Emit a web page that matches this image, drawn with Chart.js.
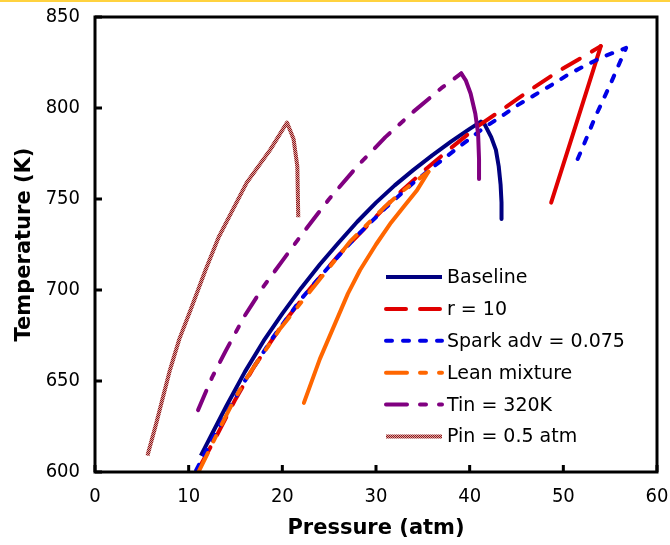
<!DOCTYPE html>
<html>
<head>
<meta charset="utf-8">
<script src="https://cdn.jsdelivr.net/npm/chart.js@4.4.0/dist/chart.umd.min.js"></script>
<style>
  html, body { margin: 0; padding: 0; background: #fff; }
</style>
</head>
<body>
<canvas id="chart" width="670" height="545"></canvas>
<script>
// T vs P for each engine case
const seriesNames = ['Baseline', 'r = 10', 'Spark adv = 0.075', 'Lean mixture', 'Tin = 320K', 'Pin = 0.5 atm'];

const baseP = [11.3, 12.5, 14.0, 16.0, 18.0, 20.0, 22.0, 24.0, 26.0, 28.0, 30.0, 32.0, 34.0, 36.0, 38.0, 40.0, 41.2, 41.6, 42.3, 42.8, 43.1, 43.3, 43.4, 43.4];
const baseT = [609, 621, 636, 655, 672, 687, 701, 714, 726, 737.5, 748, 757.5, 766, 774, 781.5, 788.5, 792.5, 791, 784, 777, 768, 758, 748, 739];

const r10P = [11.3, 13.0, 15.0, 17.0, 20.0, 23.0, 26.0, 29.0, 32.0, 35.0, 38.0, 41.0, 43.3, 45.1, 46.5, 49.4, 52.4, 54.0, 51.3, 48.7];
const r10T = [604, 620, 640, 658, 681, 701, 719, 735, 751, 765, 778, 790.5, 798.5, 805, 810, 820, 829, 834, 790, 748];

const sparkP = [10.8, 12.0, 14.0, 16.0, 19.0, 22.0, 25.0, 28.0, 31.0, 34.0, 36.2, 38.7, 41.5, 43.7, 45.1, 46.9, 48.7, 50.4, 52.2, 54.4, 56.7, 55.1, 53.4, 52.2, 51.2];
const sparkT = [601, 613, 632, 650, 674, 695, 713, 730, 745, 759, 768, 778, 789, 796.5, 801.5, 807, 812.5, 818, 823, 828.5, 833, 814, 795, 780, 768];

const leanP = [11.05, 12.2, 13.5, 15.0, 16.6, 19.8, 23.7, 27.3, 30.8, 33.0, 35.6, 34.4, 33.0, 31.6, 30.0, 28.3, 27.0, 25.5, 24.0, 22.3];
const leanT = [600, 612, 626, 641, 655, 679, 704, 727, 745, 755, 765, 755, 746, 737, 725, 711, 698, 680, 662, 638];

const tinP = [11.0, 12.5, 14.0, 16.0, 18.0, 20.0, 22.0, 25.0, 28.0, 31.0, 34.0, 37.0, 39.1, 39.6, 40.1, 40.6, 40.9, 41.0, 41.0];
const tinT = [634, 652, 667, 686, 702, 716, 730, 750, 768, 784, 798, 811, 819, 815, 808, 797, 786, 772, 761];

const pinP = [5.6, 6.5, 7.0, 8.0, 9.0, 10.2, 11.8, 13.2, 14.4, 16.2, 18.7, 20.5, 21.2, 21.6, 21.7];
const pinT = [609, 626, 636, 656, 673, 689, 711, 729, 741, 759, 777, 792, 783, 768, 740];

const xTicks = [0, 10, 20, 30, 40, 50, 60];
const yTicks = [600, 650, 700, 750, 800, 850];

const FONT = "'DejaVu Sans Condensed', 'DejaVu Sans', sans-serif";

const canvas = document.getElementById('chart');
const ctx = canvas.getContext('2d');

// dotted brown texture for the low inlet pressure line
const hatch = (() => {
    const c = document.createElement('canvas');
    c.width = 2; c.height = 2;
    const g = c.getContext('2d');
    g.fillStyle = '#dfa3a3'; g.fillRect(0, 0, 2, 2);
    g.fillStyle = '#8b1a1a'; g.fillRect(0, 0, 1, 1); g.fillRect(1, 1, 1, 1);
    return ctx.createPattern(c, 'repeat');
})();

const pts = (p, t) => p.map((v, i) => ({x: v, y: t[i]}));
const peakOf = t => t.indexOf(Math.max(...t));

// dash until the peak, then solid (if solidAfter)
const mkSet = (label, p, t, color, dash, solidAfter, order) => {
    const pk = peakOf(t);
    return {
        label: label,
        data: pts(p, t),
        borderColor: color,
        borderWidth: 4,
        borderDash: dash,
        borderCapStyle: dash.length ? 'round' : 'butt',
        borderJoinStyle: 'round',
        pointRadius: 0,
        showLine: true,
        tension: 0,
        order: order,
        segment: {
            borderDash: c => (solidAfter && c.p0DataIndex >= pk) ? [] : dash
        }
    };
};

const topBar = {
    id: 'topBar',
    beforeDraw(chart) {
        const c = chart.ctx;
        c.save();
        c.fillStyle = '#fff';
        c.fillRect(0, 0, chart.width, chart.height);
        c.fillStyle = '#ffd23f';
        c.fillRect(0, 0, chart.width, 2);
        c.restore();
    }
};

const frame = {
    id: 'frame',
    afterDatasetsDraw(chart) {
        const c = chart.ctx;
        const a = chart.chartArea;
        const sx = chart.scales.x, sy = chart.scales.y;
        c.save();
        c.strokeStyle = '#000';
        c.lineWidth = 3;
        c.beginPath();
        xTicks.forEach(v => {
            const px = sx.getPixelForValue(v);
            c.moveTo(px, a.bottom);
            c.lineTo(px, a.bottom - 7);
        });
        yTicks.forEach(v => {
            const py = sy.getPixelForValue(v);
            c.moveTo(a.left, py);
            c.lineTo(a.left + 7, py);
        });
        c.stroke();
        c.strokeRect(a.left, a.top, a.right - a.left, a.bottom - a.top);
        c.restore();
    }
};

const insideLegend = {
    id: 'insideLegend',
    afterDraw(chart) {
        const c = chart.ctx;
        const a = chart.chartArea;
        const x0 = a.left + 291, len = 56;
        c.save();
        c.font = "19px 'DejaVu Sans', sans-serif";
        c.textBaseline = 'middle';
        c.fillStyle = '#000';
        chart.data.datasets.forEach((ds, i) => {
            const y = a.top + 260 + i * 31.9;
            c.strokeStyle = ds.borderColor;
            c.lineWidth = ds.borderWidth;
            c.lineCap = ds.borderCapStyle;
            c.setLineDash(ds.borderDash);
            c.beginPath();
            c.moveTo(x0, y);
            c.lineTo(x0 + len, y);
            c.stroke();
            c.setLineDash([]);
            c.fillText(ds.label, x0 + 61, y + 1);
        });
        c.restore();
    }
};

new Chart(ctx, {
    type: 'scatter',
    data: {
        datasets: [
            mkSet(seriesNames[0], baseP, baseT, '#000080', [], false, 6),
            mkSet(seriesNames[1], r10P, r10T, '#e00000', [20, 14], true, 5),
            mkSet(seriesNames[2], sparkP, sparkT, '#0000e6', [6, 11], false, 4),
            mkSet(seriesNames[3], leanP, leanT, '#ff6600', [21, 13, 6, 13], true, 3),
            mkSet(seriesNames[4], tinP, tinT, '#800080', [21, 13, 6, 13], true, 2),
            mkSet(seriesNames[5], pinP, pinT, hatch, [], false, 1)
        ]
    },
    options: {
        responsive: false,
        animation: false,
        devicePixelRatio: 1,
        layout: { padding: { top: 17, right: 13, left: 0, bottom: 0 } },
        plugins: {
            legend: { display: false },
            tooltip: { enabled: false }
        },
        scales: {
            x: {
                type: 'linear',
                min: 0, max: 60,
                afterBuildTicks: s => { s.ticks = xTicks.map(v => ({value: v})); },
                afterFit: s => { s.height = 73; },
                // grid hidden; tickLength only pushes the labels down
                grid: { display: false, drawTicks: true, tickLength: 12 },
                border: { display: false },
                ticks: { font: { family: FONT, size: 20 }, color: '#000', padding: 1, maxRotation: 0 },
                title: {
                    display: true, text: 'Pressure (atm)', color: '#000',
                    font: { family: "'DejaVu Sans', sans-serif", size: 21, weight: 'bold' },
                    padding: { top: 0, bottom: 4 }
                }
            },
            y: {
                type: 'linear',
                min: 600, max: 850,
                afterBuildTicks: s => { s.ticks = yTicks.map(v => ({value: v})); },
                afterFit: s => { s.width = 95; },
                grid: { display: false, drawTicks: true, tickLength: 13 },
                border: { display: false },
                ticks: { font: { family: FONT, size: 20 }, color: '#000', padding: 2 },
                title: {
                    display: true, text: 'Temperature (K)', color: '#000',
                    font: { family: "'DejaVu Sans', sans-serif", size: 21, weight: 'bold' },
                    padding: { top: 12, bottom: 0 }
                }
            }
        }
    },
    plugins: [topBar, frame, insideLegend]
});
</script>
</body>
</html>
